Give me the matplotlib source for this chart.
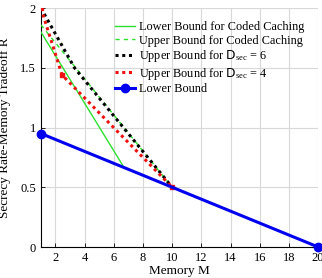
import matplotlib
matplotlib.use("Agg")
import matplotlib.pyplot as plt

plt.rcParams['font.family'] = ['Liberation Serif', 'DejaVu Serif']
plt.rcParams['mathtext.fontset'] = 'custom'
plt.rcParams['mathtext.rm'] = 'Liberation Serif'
plt.rcParams['mathtext.it'] = 'Liberation Serif:italic'
plt.rcParams['mathtext.sf'] = 'DejaVu Sans'

# data
lb_cc_M = [1, 6.7]
lb_cc_R = [1.8, 0.665]
ub_cc_M = [1, 10]
ub_cc_R = [1.86, 0.5]
ub6_M = [1, 3.3, 10]
ub6_R = [2.0, 1.5, 0.5]
ub4_M = [1, 2.45, 10]
ub4_R = [2.0, 1.44, 0.5]
lb_M = [1, 20]
lb_R = [0.95, 0.0]

xticks = [2, 4, 6, 8, 10, 12, 14, 16, 18, 20]
yticks = [0, 0.5, 1, 1.5, 2]
yticklabels = ['0', '0.5', '1', '1.5', '2']

fig = plt.figure(figsize=(3.22, 2.78), dpi=100)
ax = fig.add_axes([0.127, 0.1115, 0.861, 0.8595])

green = '#2ee02e'
red = '#ee1111'
ax.plot(lb_cc_M, lb_cc_R, color=green, lw=1.0, label='Lower Bound for Coded Caching', zorder=3)
ax.plot(ub_cc_M, ub_cc_R, color=green, lw=1.0, ls=(0, (3, 3)), label='Upper Bound for Coded Caching', zorder=3)
ax.plot(ub6_M, ub6_R, color='black', lw=2.2, ls=(0, (1, 1.2)),
        label=r'Upper Bound for $\mathsf{D}_{\mathrm{sec}}$ = 6', zorder=4)
ax.plot(ub4_M, ub4_R, color=red, lw=2.2, ls=(0, (1, 1.2)),
        label=r'Upper Bound for $\mathsf{D}_{\mathrm{sec}}$ = 4', zorder=5)
ax.plot(ub4_M, ub4_R, color=red, lw=0, marker='s', ms=3, zorder=5)
ax.plot(lb_M, lb_R, color='#0000ee', lw=2.2, marker='o', ms=6, label='Lower Bound', zorder=6, clip_on=False)

ax.set_xlim(1, 20)
ax.set_ylim(0, 2)
ax.set_xticks(xticks)
ax.set_yticks(yticks)
ax.set_yticklabels(yticklabels)
ax.grid(True, color='#d8d8d8', lw=0.8)
ax.set_axisbelow(True)
for s in ['top', 'right']:
    ax.spines[s].set_visible(False)
ax.tick_params(direction='in', length=3, labelsize=9, width=0.6)
ax.set_xlabel('Memory M', fontsize=9.5, labelpad=1)
ax.set_ylabel('Secrecy Rate-Memory Tradeoff R', fontsize=9.5)
ax.yaxis.set_label_coords(-0.108, 0.5)

leg = ax.legend(loc='upper left', bbox_to_anchor=(0.268, 0.945), frameon=False, fontsize=8.8,
                handlelength=1.6, handletextpad=0.35, labelspacing=0.12, borderaxespad=0,
                borderpad=0)

fig.savefig('out.png', dpi=100)
